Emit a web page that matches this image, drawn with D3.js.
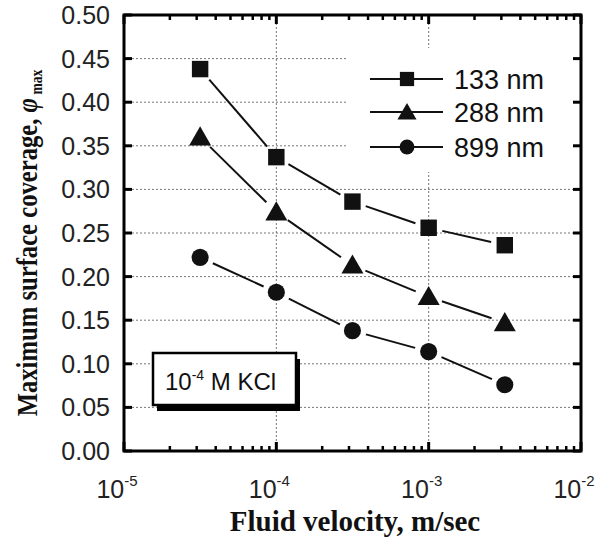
<!DOCTYPE html>
<html><head><meta charset="utf-8">
<script src="https://cdn.jsdelivr.net/npm/d3@7"></script>
<style>body{margin:0;background:#fff}svg{display:block}</style>
</head><body>
<script>
const velocity = [3.16e-5, 1e-4, 3.16e-4, 1e-3, 3.16e-3];
const seriesNames = ["133 nm", "288 nm", "899 nm"];
const s133 = [0.438, 0.337, 0.286, 0.256, 0.236];
const s288 = [0.360, 0.274, 0.213, 0.177, 0.147];
const s899 = [0.222, 0.182, 0.138, 0.114, 0.076];
const yTicks = [0, 0.05, 0.10, 0.15, 0.20, 0.25, 0.30, 0.35, 0.40, 0.45, 0.50];
const xTicks = [1e-5, 1e-4, 1e-3, 1e-2];
const xExp = ["-5", "-4", "-3", "-2"];

const W = 607, H = 546;
const L = 124, R = 581, T = 15, B = 451;
const svg = d3.select("body").append("svg").attr("width", W).attr("height", H);
const x = d3.scaleLog().domain([1e-5, 1e-2]).range([L, R]);
const y = d3.scaleLinear().domain([0, 0.5]).range([B, T]);

// gridlines
const grid = svg.append("g").attr("stroke", "#777").attr("stroke-width", 1).attr("stroke-dasharray", "2,2");
yTicks.filter(v => v > 0 && v < 0.5).forEach(v => grid.append("line").attr("x1", L).attr("x2", R).attr("y1", y(v)).attr("y2", y(v)));
xTicks.filter(v => v > 1e-5 && v < 1e-2).forEach(v => grid.append("line").attr("x1", x(v)).attr("x2", x(v)).attr("y1", T).attr("y2", B));

// legend background (covers grid)
svg.append("rect").attr("x", 347).attr("y", 48).attr("width", R - 349).attr("height", 124).attr("fill", "#fff");

// KCl box
const kb = {x: 153, y: 353, w: 143, h: 52};
svg.append("rect").attr("x", kb.x + 4).attr("y", kb.y + 6).attr("width", kb.w).attr("height", kb.h).attr("fill", "#000");
svg.append("rect").attr("x", kb.x).attr("y", kb.y).attr("width", kb.w).attr("height", kb.h).attr("fill", "#fff").attr("stroke", "#000").attr("stroke-width", 2.5);
const kt = svg.append("text").attr("x", kb.x + 12).attr("y", kb.y + 37).attr("font-family", "Liberation Sans, Arial, sans-serif").attr("font-size", 24).attr("fill", "#111");
kt.append("tspan").text("10");
kt.append("tspan").attr("dy", -10).attr("font-size", 14).text("-4");
kt.append("tspan").attr("dy", 10).text(" M KCl");

// frame
svg.append("rect").attr("x", L).attr("y", T).attr("width", R - L).attr("height", B - T).attr("fill", "none").attr("stroke", "#000").attr("stroke-width", 3);

// y ticks inside left and right
yTicks.forEach(v => {
  svg.append("line").attr("x1", L).attr("x2", L + 8).attr("y1", y(v)).attr("y2", y(v)).attr("stroke", "#000").attr("stroke-width", 3);
  svg.append("line").attr("x1", R).attr("x2", R - 8).attr("y1", y(v)).attr("y2", y(v)).attr("stroke", "#000").attr("stroke-width", 3);
});
// x ticks major & minor, top and bottom
const minor = [];
[1e-5, 1e-4, 1e-3].forEach(d => { for (let k = 2; k <= 9; k++) minor.push(d * k); });
minor.forEach(v => {
  svg.append("line").attr("x1", x(v)).attr("x2", x(v)).attr("y1", B).attr("y2", B - 5).attr("stroke", "#000").attr("stroke-width", 2.5);
  svg.append("line").attr("x1", x(v)).attr("x2", x(v)).attr("y1", T).attr("y2", T + 5).attr("stroke", "#000").attr("stroke-width", 2.5);
});
xTicks.forEach(v => {
  svg.append("line").attr("x1", x(v)).attr("x2", x(v)).attr("y1", B).attr("y2", B - 9).attr("stroke", "#000").attr("stroke-width", 3);
  svg.append("line").attr("x1", x(v)).attr("x2", x(v)).attr("y1", T).attr("y2", T + 9).attr("stroke", "#000").attr("stroke-width", 3);
});

// tick labels
const sans = "Liberation Sans, Arial, sans-serif";
yTicks.forEach(v => {
  svg.append("text").attr("x", 110).attr("y", y(v) + 9).attr("text-anchor", "end").attr("font-family", sans).attr("font-size", 25).attr("fill", "#222").text(v.toFixed(2));
});
xTicks.forEach((v, i) => {
  const t = svg.append("text").attr("x", x(v) - 7).attr("y", 498).attr("text-anchor", "middle").attr("font-family", sans).attr("font-size", 25).attr("fill", "#222");
  t.append("tspan").text("10");
  t.append("tspan").attr("dy", -12).attr("font-size", 15).text(xExp[i]);
});

// axis titles
const serif = "Liberation Serif, Times New Roman, serif";
svg.append("text").attr("x", 355).attr("y", 531).attr("text-anchor", "middle").attr("font-family", serif).attr("font-weight", "bold").attr("font-size", 29).attr("fill", "#111").text("Fluid velocity, m/sec");
const yt = svg.append("text").attr("transform", "translate(37,243) rotate(-90) scale(0.85,1)").attr("text-anchor", "middle").attr("font-family", serif).attr("font-weight", "bold").attr("font-size", 29).attr("fill", "#111");
yt.append("tspan").text("Maximum surface coverage, ");
yt.append("tspan").attr("font-style", "italic").text("φ");
yt.append("tspan").attr("dy", 5).attr("font-size", 16).text(" max");

// series
const series = [s133, s288, s899];
const shapes = [d3.symbolSquare, d3.symbolTriangle, d3.symbolCircle];
const sizes = [270, 210, 230];
const gap = 14;
series.forEach((s, si) => {
  const pts = velocity.map((v, i) => [x(v), y(s[i])]);
  for (let i = 0; i < pts.length - 1; i++) {
    const [x1, y1] = pts[i], [x2, y2] = pts[i + 1];
    const dx = x2 - x1, dy = y2 - y1, len = Math.hypot(dx, dy);
    const ux = dx / len, uy = dy / len;
    svg.append("line").attr("x1", x1 + ux * gap).attr("y1", y1 + uy * gap).attr("x2", x2 - ux * gap).attr("y2", y2 - uy * gap).attr("stroke", "#111").attr("stroke-width", 2);
  }
  pts.forEach(p => {
    svg.append("path").attr("d", d3.symbol().type(shapes[si]).size(sizes[si])()).attr("transform", `translate(${p[0]},${p[1] + (si === 1 ? 2 : 0)})`).attr("fill", "#111");
  });
});

// legend
const legY = [79, 112, 147];
seriesNames.forEach((n, i) => {
  svg.append("line").attr("x1", 370).attr("x2", 443).attr("y1", legY[i]).attr("y2", legY[i]).attr("stroke", "#111").attr("stroke-width", 2);
  svg.append("path").attr("d", d3.symbol().type(shapes[i]).size(sizes[i] * 0.75)()).attr("transform", `translate(407,${legY[i] + (i === 1 ? 2 : 0)})`).attr("fill", "#111");
  svg.append("text").attr("x", 454).attr("y", legY[i] + 10).attr("font-family", sans).attr("font-size", 27).attr("fill", "#111").text(n);
});
</script>
</body></html>
